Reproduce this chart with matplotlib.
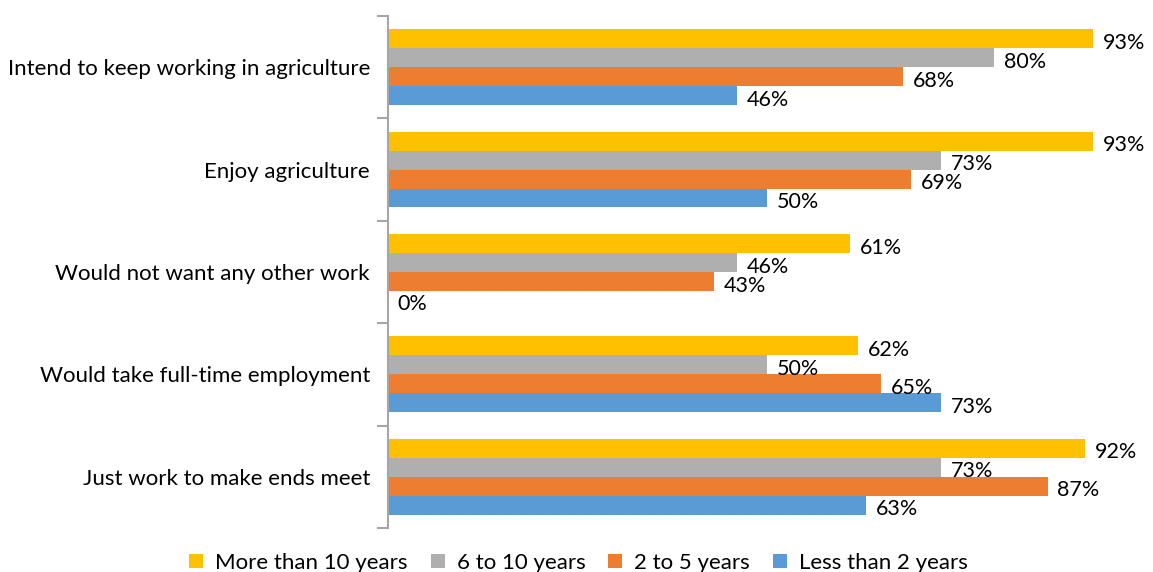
import matplotlib

matplotlib.use("Agg")

import matplotlib.pyplot as plt
import numpy as np
from matplotlib.lines import Line2D

plt.rcParams["font.family"] = ["Lato", "DejaVu Sans"]

categories = [
    "Intend to keep working in agriculture",
    "Enjoy agriculture",
    "Would not want any other work",
    "Would take full-time employment",
    "Just work to make ends meet",
]
series_names = ["More than 10 years", "6 to 10 years", "2 to 5 years", "Less than 2 years"]
more_than_10 = [93, 93, 61, 62, 92]
six_to_10 = [80, 73, 46, 50, 73]
two_to_5 = [68, 69, 43, 65, 87]
less_than_2 = [46, 50, 0, 73, 63]
colors = ["#FFC000", "#AFAFAF", "#ED7D31", "#5B9BD5"]

series = [more_than_10, six_to_10, two_to_5, less_than_2]

fig = plt.figure(figsize=(11.53, 5.72), dpi=100)
ax = fig.add_axes([0.3365, 0.077, 0.6575, 0.895])

y = np.arange(len(categories))
bar_h = 0.185
for i, (vals, color) in enumerate(zip(series, colors)):
    pos = y + (i - 1.5) * bar_h
    ax.barh(pos, vals, height=bar_h, color=color, linewidth=0)
    for p, v in zip(pos, vals):
        ax.text(v + 1.3, p + 0.04, f"{v}%", va="center", ha="left", fontsize=15.5, color="#000000")

ax.set_xlim(0, 100)
ax.set_ylim(len(categories) - 0.5, -0.5)
ax.set_yticks(np.arange(-0.5, len(categories) + 0.5, 1))
ax.set_yticklabels([])
ax.set_yticks(y, minor=True)
ax.set_yticklabels(categories, minor=True, fontsize=16)
ax.tick_params(axis="y", which="minor", length=0, pad=13)
ax.tick_params(axis="y", which="major", length=8, width=1.5, color="#A6A6A6", direction="out")
ax.set_xticks([])
for side in ["top", "right", "bottom"]:
    ax.spines[side].set_visible(False)
ax.spines["left"].set_color("#A6A6A6")
ax.spines["left"].set_linewidth(1.5)

handles = [
    Line2D([], [], marker="s", linestyle="none", markersize=10, markerfacecolor=c, markeredgewidth=0)
    for c in colors
]
fig.legend(
    handles,
    series_names,
    loc="lower center",
    bbox_to_anchor=(0.5, -0.037),
    ncol=4,
    frameon=False,
    fontsize=16,
    handletextpad=0.35,
    columnspacing=0.85,
    handlelength=1.0,
)

fig.savefig("out.png", dpi=100)
